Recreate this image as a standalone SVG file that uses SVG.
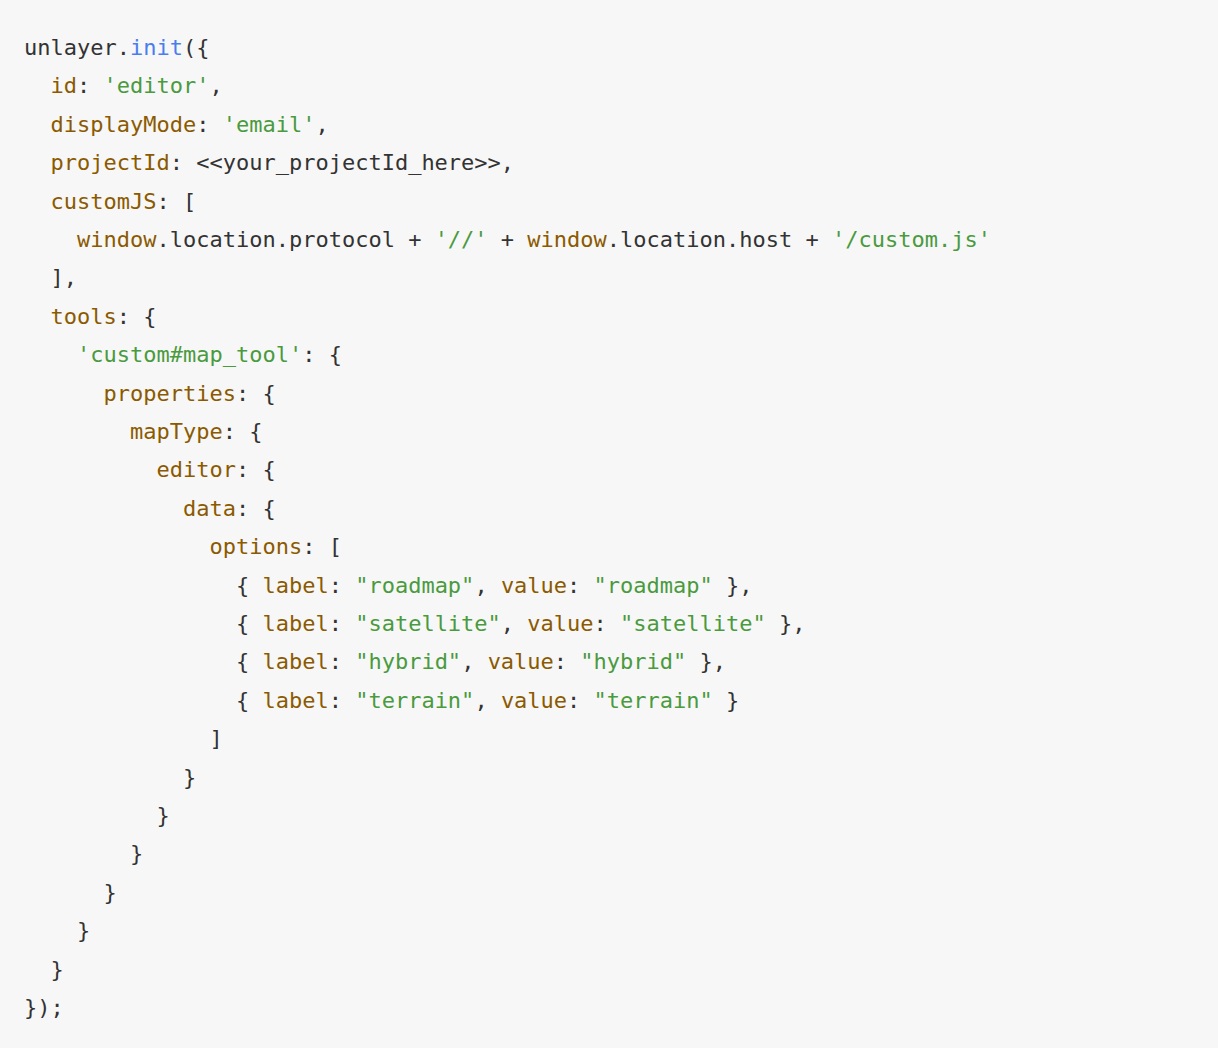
<svg xmlns="http://www.w3.org/2000/svg" width="1218" height="1048" viewBox="0 0 1218 1048">
<style>
text{font-family:"DejaVu Sans Mono","Liberation Mono",monospace;font-size:22px;fill:#333;white-space:pre}
.k{fill:#8b5a00}.s{fill:#4a9a3e}.f{fill:#4a7ef0}
</style>
<rect width="1218" height="1048" fill="#f7f7f7"/>
<g id="code" xml:space="preserve">
<text x="24" y="55">unlayer.<tspan class="f">init</tspan>({</text>
<text x="24" y="93.4">  <tspan class="k">id</tspan>: <tspan class="s">'editor'</tspan>,</text>
<text x="24" y="131.8">  <tspan class="k">displayMode</tspan>: <tspan class="s">'email'</tspan>,</text>
<text x="24" y="170.2">  <tspan class="k">projectId</tspan>: &lt;&lt;your_projectId_here&gt;&gt;,</text>
<text x="24" y="208.6">  <tspan class="k">customJS</tspan>: [</text>
<text x="24" y="247">    <tspan class="k">window</tspan>.location.protocol + <tspan class="s">'//'</tspan> + <tspan class="k">window</tspan>.location.host + <tspan class="s">'/custom.js'</tspan></text>
<text x="24" y="285.4">  ],</text>
<text x="24" y="323.8">  <tspan class="k">tools</tspan>: {</text>
<text x="24" y="362.2">    <tspan class="s">'custom#map_tool'</tspan>: {</text>
<text x="24" y="400.6">      <tspan class="k">properties</tspan>: {</text>
<text x="24" y="439">        <tspan class="k">mapType</tspan>: {</text>
<text x="24" y="477.4">          <tspan class="k">editor</tspan>: {</text>
<text x="24" y="515.8">            <tspan class="k">data</tspan>: {</text>
<text x="24" y="554.2">              <tspan class="k">options</tspan>: [</text>
<text x="24" y="592.6">                { <tspan class="k">label</tspan>: <tspan class="s">"roadmap"</tspan>, <tspan class="k">value</tspan>: <tspan class="s">"roadmap"</tspan> },</text>
<text x="24" y="631">                { <tspan class="k">label</tspan>: <tspan class="s">"satellite"</tspan>, <tspan class="k">value</tspan>: <tspan class="s">"satellite"</tspan> },</text>
<text x="24" y="669.4">                { <tspan class="k">label</tspan>: <tspan class="s">"hybrid"</tspan>, <tspan class="k">value</tspan>: <tspan class="s">"hybrid"</tspan> },</text>
<text x="24" y="707.8">                { <tspan class="k">label</tspan>: <tspan class="s">"terrain"</tspan>, <tspan class="k">value</tspan>: <tspan class="s">"terrain"</tspan> }</text>
<text x="24" y="746.2">              ]</text>
<text x="24" y="784.6">            }</text>
<text x="24" y="823">          }</text>
<text x="24" y="861.4">        }</text>
<text x="24" y="899.8">      }</text>
<text x="24" y="938.2">    }</text>
<text x="24" y="976.6">  }</text>
<text x="24" y="1015">});</text>
</g>
</svg>
